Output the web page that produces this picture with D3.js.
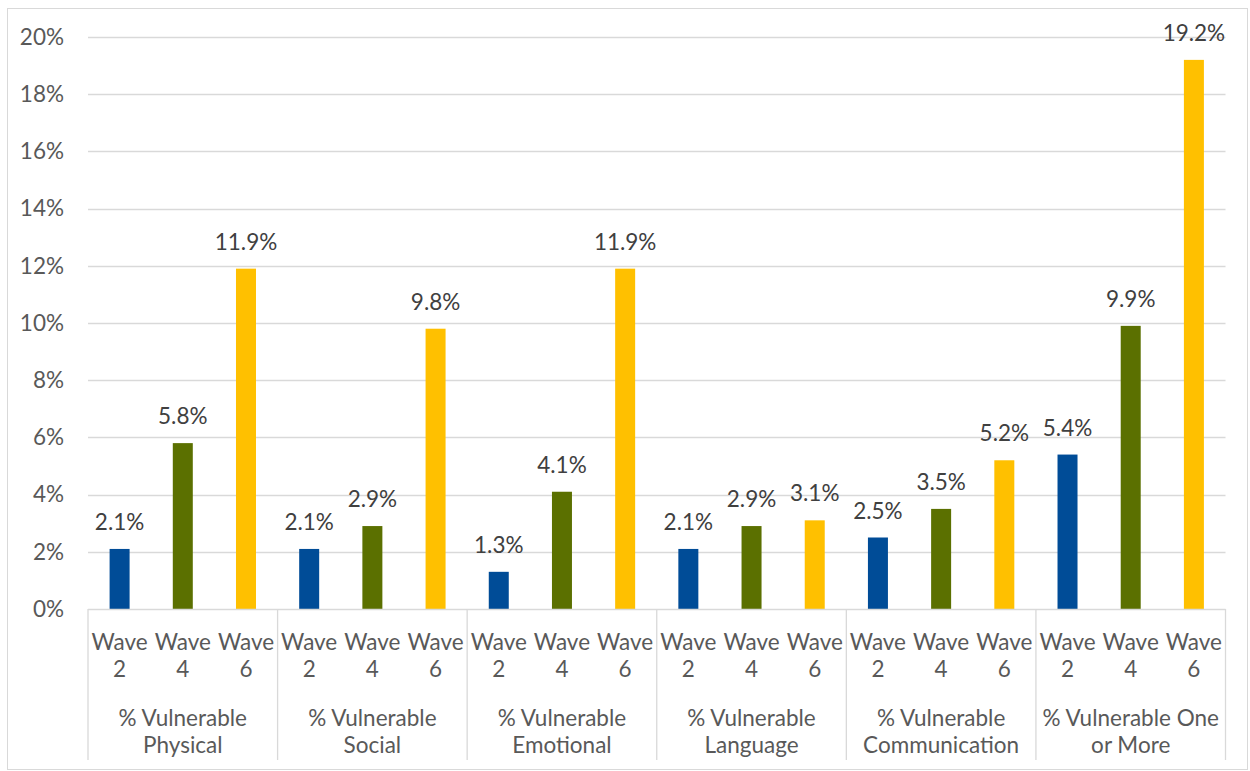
<!DOCTYPE html>
<html><head><meta charset="utf-8">
<script src="https://cdn.jsdelivr.net/npm/d3@7"></script>
<style>
html,body{margin:0;padding:0;background:#fff;}
svg text{font-family:Lato,"Open Sans",sans-serif;fill:#595959;}
</style></head>
<body><svg id="chart" width="1250" height="771"></svg>
<script>
const categories = [["% Vulnerable","Physical"],["% Vulnerable","Social"],["% Vulnerable","Emotional"],["% Vulnerable","Language"],["% Vulnerable","Communication"],["% Vulnerable One","or More"]];
const waves = ["Wave 2","Wave 4","Wave 6"];
const wave2 = [2.1, 2.1, 1.3, 2.1, 2.5, 5.4];
const wave4 = [5.8, 2.9, 4.1, 2.9, 3.5, 9.9];
const wave6 = [11.9, 9.8, 11.9, 3.1, 5.2, 19.2];
const yTicks = [0,2,4,6,8,10,12,14,16,18,20];
const colors = ["#004C97","#5B7000","#FFC000"];

(function(){
const series = [wave2, wave4, wave6];
const svg = d3.select("#chart");
const W = 1250, H = 771;
const mLeft = 88, mRight = 1225.5, mTop = 37, mBottom = 609;
const fs = 22.5;

// chart frame
svg.append("rect").attr("x",7.5).attr("y",8.5).attr("width",W-10).attr("height",H-10)
  .attr("fill","none").attr("stroke","#D9D9D9").attr("stroke-width",1);

const y = d3.scaleLinear().domain([0,20]).range([mBottom, mTop]);
const x0 = d3.scaleBand().domain(d3.range(categories.length)).range([mLeft, mRight]);
const x1 = d3.scaleBand().domain(d3.range(waves.length)).range([0, x0.bandwidth()]);
const barW = 20;

// gridlines
svg.append("g").selectAll("line").data(yTicks.filter(d=>d>0)).join("line")
  .attr("x1",mLeft).attr("x2",mRight).attr("y1",d=>Math.round(y(d))+0.5).attr("y2",d=>Math.round(y(d))+0.5)
  .attr("stroke","#D9D9D9").attr("stroke-width",1.3);

// y axis labels
const yAxis = d3.axisLeft(y).tickValues(yTicks).tickFormat(d=>d+"%").tickSize(0).tickPadding(0);
const ga = svg.append("g").attr("transform",`translate(${mLeft-24},0)`).call(yAxis);
ga.select(".domain").remove();
ga.selectAll("text").attr("font-size",fs).attr("fill","#595959").style("font-family","Lato,sans-serif");

// bars and value labels
const groups = svg.append("g").selectAll("g").data(categories).join("g")
  .attr("transform",(d,i)=>`translate(${x0(i)},0)`);
series.forEach((s,si)=>{
  groups.append("rect")
    .attr("x",(d,i)=>x1(si)+x1.bandwidth()/2-barW/2)
    .attr("width",barW)
    .attr("y",(d,i)=>y(s[i]))
    .attr("height",(d,i)=>mBottom-y(s[i]))
    .attr("fill",colors[si]);
  groups.append("text")
    .attr("x",(d,i)=>x1(si)+x1.bandwidth()/2)
    .attr("y",(d,i)=>y(s[i])-19)
    .attr("text-anchor","middle").attr("font-size",fs)
    .style("fill","#404040")
    .text((d,i)=>s[i].toFixed(1)+"%");
});

// baseline
svg.append("line").attr("x1",mLeft).attr("x2",mRight).attr("y1",mBottom+0.5).attr("y2",mBottom+0.5)
  .attr("stroke","#D9D9D9").attr("stroke-width",1.3);

// category separators
svg.append("g").selectAll("line").data(d3.range(categories.length+1)).join("line")
  .attr("x1",i=>(i<categories.length?x0(i):mRight)).attr("x2",i=>(i<categories.length?x0(i):mRight))
  .attr("y1",mBottom).attr("y2",760)
  .attr("stroke","#D9D9D9").attr("stroke-width",1.3);

// wave and category labels
groups.each(function(d,i){
  const g = d3.select(this);
  waves.forEach((w,wi)=>{
    const cx = x1(wi)+x1.bandwidth()/2;
    const parts = w.split(" ");
    const t = g.append("text").attr("text-anchor","middle").attr("font-size",fs);
    t.append("tspan").attr("x",cx).attr("y",650).text(parts[0]);
    t.append("tspan").attr("x",cx).attr("y",677).text(parts[1]);
  });
  const t = g.append("text").attr("text-anchor","middle").attr("font-size",fs);
  t.append("tspan").attr("x",x0.bandwidth()/2).attr("y",726).text(d[0]);
  t.append("tspan").attr("x",x0.bandwidth()/2).attr("y",753).text(d[1]);
});
})();
</script></body></html>
